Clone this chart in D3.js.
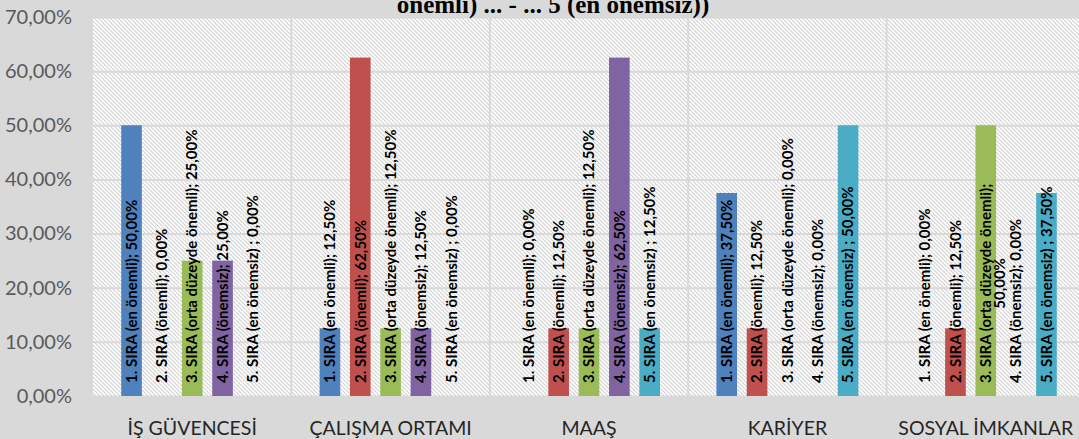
<!DOCTYPE html>
<html>
<head>
<meta charset="utf-8">
<script src="https://cdn.jsdelivr.net/npm/d3@7"></script>
<style>
  body { margin: 0; background: #d9d9d9; }
  svg { display: block; }
</style>
</head>
<body>
<svg id="chart" width="1079" height="439"></svg>
<script>
// categories and series
var categories = ["İŞ GÜVENCESİ", "ÇALIŞMA ORTAMI", "MAAŞ", "KARİYER", "SOSYAL İMKANLAR"]
var seriesNames = [
    "1. SIRA (en önemli)",
    "2. SIRA (önemli)",
    "3. SIRA (orta düzeyde önemli)",
    "4. SIRA (önemsiz)",
    "5. SIRA (en önemsiz) "
]
// values in %, one array per series (same order as categories)
var sira1 = [50, 12.5, 0, 37.5, 0]
var sira2 = [0, 62.5, 12.5, 12.5, 12.5]
var sira3 = [25, 12.5, 12.5, 0, 50]
var sira4 = [25, 12.5, 62.5, 0, 0]
var sira5 = [0, 0, 12.5, 50, 37.5]
var yTicks = [0, 10, 20, 30, 40, 50, 60, 70]
var titleTail = "önemli) ... - ... 5 (en önemsiz))"

var colors = ["#4f81bd", "#c0504d", "#9bbb59", "#8064a2", "#4bacc6"]

function v1() {
    var allValues = [sira1, sira2, sira3, sira4, sira5]
    var svg = d3.select("#chart")

    // plot area
    var plot = { left: 93, top: 17, right: 1085, bottom: 396 }

    var x0 = d3.scaleBand()
        .domain(categories)
        .range([plot.left, plot.right])

    var x1 = d3.scaleBand()
        .domain(seriesNames)
        .range([0, x0.bandwidth()])
        .paddingInner(0.32)
        .paddingOuter(0.93)

    var y = d3.scaleLinear()
        .domain([0, 70])
        .range([plot.bottom, plot.top])

    var color = d3.scaleOrdinal()
        .domain(seriesNames)
        .range(colors)

    var fmt = function(v) { return d3.format(".2f")(v).replace(".", ",") + "%" }

    // hatch pattern
    var defs = svg.append("defs")
    var pat = defs.append("pattern")
        .attr("id", "hatch")
        .attr("patternUnits", "userSpaceOnUse")
        .attr("width", 4)
        .attr("height", 4)
    pat.append("rect").attr("width", 4).attr("height", 4).attr("fill", "#ffffff")
    pat.append("path")
        .attr("d", "M-1,-1 L5,5 M-1,3 L1,5 M3,-1 L5,1")
        .attr("stroke", "#d2d2d2")
        .attr("stroke-width", 1.1)

    svg.append("rect")
        .attr("x", plot.left)
        .attr("y", plot.top)
        .attr("width", plot.right - plot.left)
        .attr("height", plot.bottom - plot.top)
        .attr("fill", "url(#hatch)")

    // horizontal gridlines
    svg.append("g")
        .attr("transform", "translate(" + plot.left + ",0)")
        .call(d3.axisLeft(y).tickValues(yTicks).tickSize(-(plot.right - plot.left)).tickFormat(""))
        .call(function(g) { g.select(".domain").remove() })
        .selectAll("line")
        .attr("stroke", "#d9d9d9")
        .attr("stroke-width", 2)

    // vertical category separators
    svg.append("g")
        .selectAll("line")
        .data(categories.slice(1))
        .enter().append("line")
        .attr("x1", function(d) { return x0(d) })
        .attr("x2", function(d) { return x0(d) })
        .attr("y1", plot.top)
        .attr("y2", plot.bottom)
        .attr("stroke", "#d9d9d9")
        .attr("stroke-width", 2)

    // y axis labels
    svg.append("g")
        .attr("transform", "translate(72,0)")
        .call(d3.axisLeft(y).tickValues(yTicks).tickSize(0).tickPadding(0).tickFormat(fmt))
        .call(function(g) { g.select(".domain").remove() })
        .selectAll("text")
        .style("font-family", "Lato, sans-serif")
        .style("font-size", "20px")
        .attr("fill", "#595959")

    // x axis labels
    svg.append("g")
        .attr("transform", "translate(0," + plot.bottom + ")")
        .call(d3.axisBottom(x0).tickSize(0).tickPadding(0))
        .call(function(g) { g.select(".domain").remove() })
        .selectAll("text")
        .attr("dy", 0)
        .attr("y", 39)
        .style("font-family", "Lato, sans-serif")
        .style("font-size", "19.5px")
        .attr("fill", "#262626")

    // rows for bars
    var rows = []
    categories.forEach(function(c, ci) {
        seriesNames.forEach(function(s, si) {
            rows.push({ cat: c, series: s, value: allValues[si][ci] })
        })
    })

    // bars
    svg.append("g")
        .selectAll("rect")
        .data(rows.filter(function(d) { return d.value > 0 }))
        .enter().append("rect")
        .attr("x", function(d) { return x0(d.cat) + x1(d.series) })
        .attr("y", function(d) { return y(d.value) })
        .attr("width", x1.bandwidth())
        .attr("height", function(d) { return y(0) - y(d.value) })
        .attr("fill", function(d) { return color(d.series) })

    // data labels, rotated, inside base
    var labels = svg.append("g")
        .selectAll("text")
        .data(rows)
        .enter().append("text")
        .attr("transform", function(d) {
            var cx = x0(d.cat) + x1(d.series) + x1.bandwidth() / 2
            return "translate(" + cx + "," + (plot.bottom - 13) + ") rotate(-90)"
        })
        .style("font-family", "Lato, sans-serif")
        .style("font-size", "15px")
        .style("font-weight", "bold")
        .attr("fill", "#000000")

    labels.each(function(d) {
        var t = d3.select(this)
        var full = d.series + "; " + fmt(d.value)
        // the one long label on SOSYAL İMKANLAR wraps in the original
        if (d.cat == "SOSYAL İMKANLAR" && d.value == 50) {
            var l1 = t.append("tspan").attr("x", 0).attr("dy", "0.35em").text(d.series + ";")
            var w = l1.node().getComputedTextLength()
            t.append("tspan").attr("x", w / 2).attr("dy", 14).attr("text-anchor", "middle").text(fmt(d.value))
        } else {
            t.attr("dy", "0.35em").text(full)
        }
    })

    // title (only the last line is visible)
    svg.append("text")
        .attr("x", 553)
        .attr("y", 13)
        .attr("text-anchor", "middle")
        .style("font-family", "'Liberation Serif', serif")
        .style("font-weight", "bold")
        .style("font-size", "25px")
        .attr("fill", "#000000")
        .text(titleTail)
}

v1()
</script>
</body>
</html>
